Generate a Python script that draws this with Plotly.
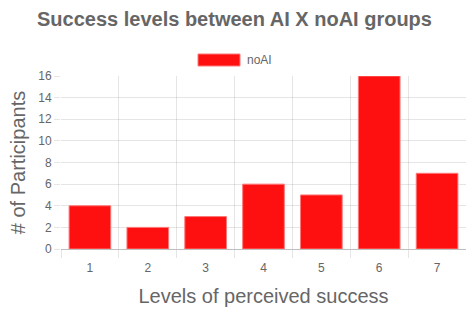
import plotly.graph_objects as go

categories = ["1", "2", "3", "4", "5", "6", "7"]
noai_values = [4, 2, 3, 6, 5, 16, 7]
y_ticks = [0, 2, 4, 6, 8, 10, 12, 14, 16]

positions = list(range(1, len(categories) + 1))
boundaries = [p - 0.5 for p in positions]

FONT = "Liberation Sans, Arial, Helvetica, sans-serif"
GREY = "#666666"

fig = go.Figure()
fig.add_trace(go.Bar(
    x=positions, y=noai_values, name="noAI",
    marker=dict(color="rgb(255,16,16)", line=dict(color="rgba(255,120,120,1)", width=1)),
    width=0.72,
))

fig.update_layout(
    width=469, height=312,
    margin=dict(l=61, r=3, t=76, b=63, autoexpand=False),
    paper_bgcolor="white", plot_bgcolor="white",
    showlegend=False,
    font=dict(family=FONT, color=GREY, size=12),
    title=dict(text="<b>Success levels between AI X noAI groups</b>",
               x=0.5, xref="container", xanchor="center", y=0.94, yanchor="middle",
               font=dict(size=20, color=GREY, family=FONT)),
)

fig.update_xaxes(
    range=[0.5, 7.5], tickmode="array", tickvals=positions, ticktext=categories,
    showgrid=False, ticks="outside", ticklen=8, tickcolor="rgba(0,0,0,0)",
    showline=False, zeroline=False, automargin=False,
    tickfont=dict(size=12, color=GREY),
    minor=dict(tickmode="array", tickvals=boundaries, showgrid=True,
               gridcolor="rgba(0,0,0,0.1)",
               ticks="outside", ticklen=8, tickcolor="rgba(0,0,0,0.1)"),
    title=dict(text="Levels of perceived success", font=dict(size=20, color=GREY), standoff=14),
)
fig.update_yaxes(
    range=[0, 16], tickmode="array", tickvals=y_ticks, showgrid=True,
    gridcolor="rgba(0,0,0,0.1)",
    ticks="outside", ticklen=6, tickcolor="rgba(0,0,0,0.1)", automargin=False,
    zeroline=True, zerolinecolor="rgba(0,0,0,0.25)", zerolinewidth=1,
    showline=False, tickfont=dict(size=12, color=GREY),
    title=dict(text="# of Participants", font=dict(size=20, color=GREY), standoff=7),
)

# Legend drawn as a wide box with label (Chart.js style)
fig.add_shape(type="rect", xref="paper", yref="paper",
              x0=(198 - 61) / 405, x1=(240 - 61) / 405,
              y0=(249 - 66) / 173, y1=(249 - 54) / 173,
              fillcolor="rgb(255,16,16)", line=dict(color="rgba(255,120,120,1)", width=1))
fig.add_annotation(text="noAI", xref="paper", yref="paper",
                   x=(245 - 61) / 405, y=(249 - 60) / 173, xanchor="left", yanchor="middle",
                   showarrow=False, font=dict(size=12, color=GREY))

fig.write_html("out.html", config={"displayModeBar": False},
               post_script="document.body.style.margin='0';")
